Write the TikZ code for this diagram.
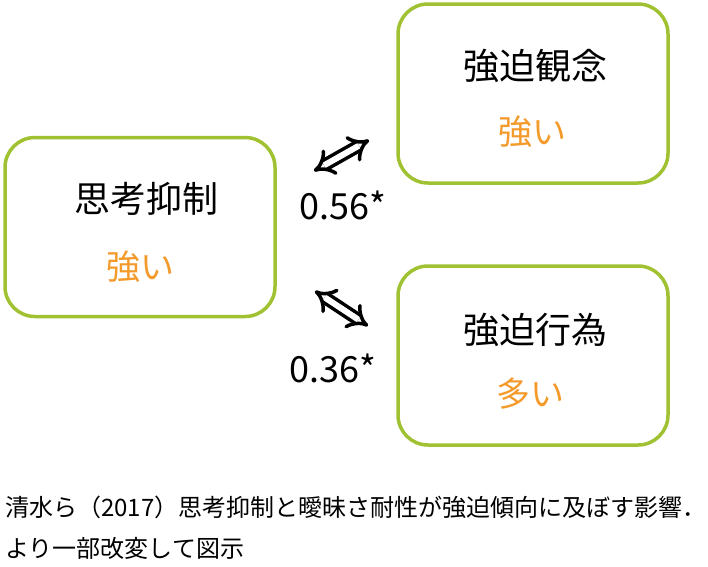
\documentclass[tikz,border=0pt]{standalone}
\usepackage{fontspec}
\setmainfont{Noto Sans CJK JP}
\usepackage{xcolor}
\usetikzlibrary{positioning, arrows.meta}
\definecolor{boxgreen}{HTML}{A0C232}
\definecolor{textorange}{HTML}{F39A2B}

\tikzset{
  factorbox/.style={draw=boxgreen, line width=3.5pt, rounded corners=30pt,
                    minimum width=270pt, minimum height=179pt},
  title/.style={font=\fontsize{36}{40}\selectfont},
  level/.style={font=\fontsize{34}{38}\selectfont, text=textorange},
  coef/.style={font=\fontsize{36}{40}\selectfont},
  corr/.style={double, double distance=6pt, line width=3.5pt, {Implies}-{Implies}},
}

\begin{document}
\begin{tikzpicture}[x=1pt, y=-1pt]
    \useasboundingbox (0,0) rectangle (708,566);
    % boxes
    \node[factorbox] (suppr) at (140,227) {};
    \node[factorbox] (obsess) at (533,93.5) {};
    \node[factorbox] (compul) at (533,355.5) {};

    \node[title] (supprT) at (146,199) {思考抑制};
    \node[level] (supprL) at (140,267) {強い};
    \node[title] (obsessT) at (535,66) {強迫観念};
    \node[level] (obsessL) at (532,132) {強い};
    \node[title] (compulT) at (535,330) {強迫行為};
    \node[level] (compulL) at (530,394) {多い};

    % correlations
    \coordinate (c1a) at (314,171);
    \coordinate (c1b) at (369,140);
    \coordinate (c2a) at (315,291);
    \coordinate (c2b) at (368,326);
    \draw[corr] (c1a) -- (c1b);
    \draw[corr] (c2a) -- (c2b);
    \node[coef] (r1) at (343,205) {0.56*};
    \node[coef] (r2) at (333,368) {0.36*};

    % source
    \node[anchor=west, align=left, inner xsep=0pt, font=\fontsize{24}{41}\selectfont] (src) at (5,528)
      {清水ら（2017）思考抑制と曖昧さ耐性が強迫傾向に及ぼす影響．\\より一部改変して図示};
\end{tikzpicture}
\end{document}
